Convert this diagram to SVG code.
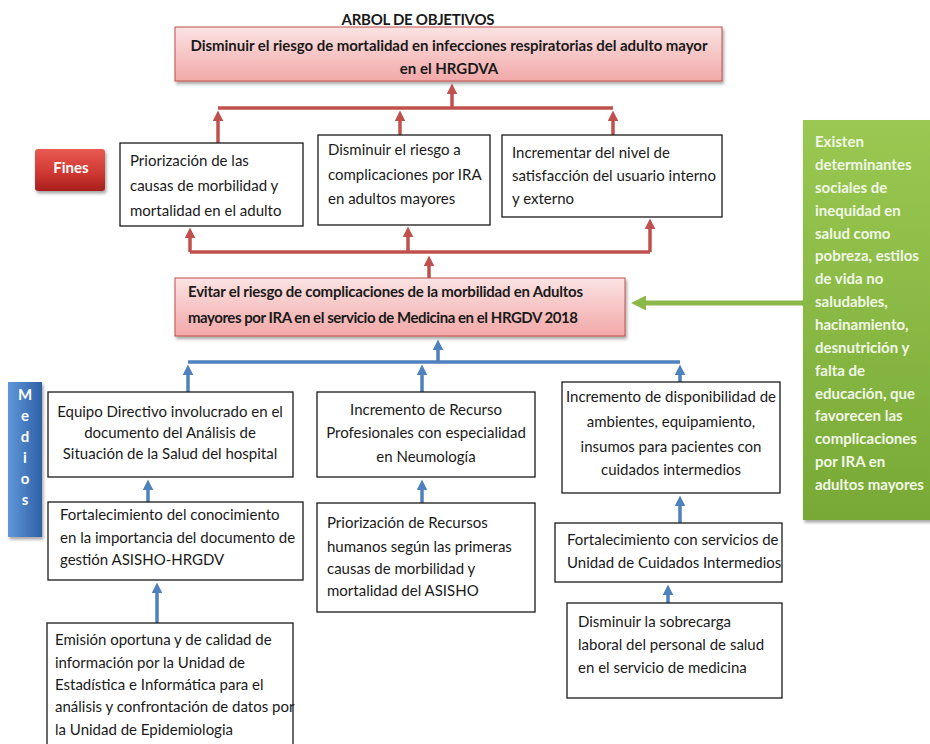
<svg xmlns="http://www.w3.org/2000/svg" width="930" height="744" viewBox="0 0 930 744">
  <defs>
    <linearGradient id="pinkFill" x1="0" y1="0" x2="0" y2="1">
      <stop offset="0" stop-color="#fbe3e3"/>
      <stop offset="1" stop-color="#f2a8a8"/>
    </linearGradient>
    <linearGradient id="redFill" x1="0" y1="0" x2="0" y2="1">
      <stop offset="0" stop-color="#ea5a52"/>
      <stop offset="0.55" stop-color="#d03a33"/>
      <stop offset="1" stop-color="#a91e1c"/>
    </linearGradient>
    <linearGradient id="blueFill" x1="0" y1="0" x2="1" y2="0">
      <stop offset="0" stop-color="#6097da"/>
      <stop offset="1" stop-color="#2e60a6"/>
    </linearGradient>
    <linearGradient id="greenFill" x1="0" y1="0" x2="0" y2="1">
      <stop offset="0" stop-color="#9ac852"/>
      <stop offset="1" stop-color="#78a936"/>
    </linearGradient>
    <filter id="shadow" x="-10%" y="-10%" width="130%" height="140%">
      <feDropShadow dx="1.5" dy="2.5" stdDeviation="1.8" flood-color="#000" flood-opacity="0.35"/>
    </filter>
    <marker id="headRed" viewBox="0 0 10 10" refX="4" refY="5" markerWidth="11" markerHeight="11" markerUnits="userSpaceOnUse" orient="auto">
      <path d="M0,0 L10,5 L0,10 Z" fill="#c0504d"/>
    </marker>
    <marker id="headBlue" viewBox="0 0 10 10" refX="4" refY="5" markerWidth="11" markerHeight="11" markerUnits="userSpaceOnUse" orient="auto">
      <path d="M0,0 L10,5 L0,10 Z" fill="#4f81bd"/>
    </marker>
    <marker id="headGreen" viewBox="0 0 10 10" refX="4" refY="5" markerWidth="15" markerHeight="15" markerUnits="userSpaceOnUse" orient="auto">
      <path d="M0,0 L10,5 L0,10 Z" fill="#8cb84a"/>
    </marker>
    <style>
      .box { fill: #fff; stroke: #1a1a1a; stroke-width: 1.3; }
      .pink { fill: url(#pinkFill); stroke: #c0504d; stroke-width: 1; filter: url(#shadow); }
      .t { font-family: Lato, "Liberation Sans", sans-serif; font-size: 15px; fill: #1a1a1a; }
      .b { font-weight: bold; }
      .c { text-anchor: middle; }
      .w { fill: #ffffff; font-weight: bold; }
      .gt { font-family: Lato, "Liberation Sans", sans-serif; font-size: 15px; font-weight: bold; fill: #f1f7e6; }
      .red { stroke: #c0504d; stroke-width: 3.5; fill: none; }
      .blue { stroke: #4f81bd; stroke-width: 3.5; fill: none; }
      .green { stroke: #8cb84a; stroke-width: 5; fill: none; }
    </style>
  </defs>

  <rect width="930" height="744" fill="#ffffff"/>

  <text class="t b c" x="418" y="25" textLength="153">ARBOL DE OBJETIVOS</text>

  <!-- Connectors -->
  <g id="connectors">
    <!-- upper red bracket: fines feed the general objective -->
    <path class="red" d="M218,108 H613"/>
    <path class="red" d="M452,108 V90" marker-end="url(#headRed)"/>
    <path class="red" d="M218,143 V117" marker-end="url(#headRed)"/>
    <path class="red" d="M400,135 V117" marker-end="url(#headRed)"/>
    <path class="red" d="M613,135 V117" marker-end="url(#headRed)"/>
    <!-- lower red bracket: central objective feeds the fines -->
    <path class="red" d="M190,252 H650"/>
    <path class="red" d="M190,252 V234" marker-end="url(#headRed)"/>
    <path class="red" d="M408,252 V233" marker-end="url(#headRed)"/>
    <path class="red" d="M650,252 V225" marker-end="url(#headRed)"/>
    <path class="red" d="M429,278 V262" marker-end="url(#headRed)"/>
    <!-- green arrow from the determinants -->
    <path class="green" d="M803,303 H640" marker-end="url(#headGreen)"/>
    <!-- blue bracket: medios feed the central objective -->
    <path class="blue" d="M188,362 H680"/>
    <path class="blue" d="M438,362 V346" marker-end="url(#headBlue)"/>
    <path class="blue" d="M188,392 V371" marker-end="url(#headBlue)"/>
    <path class="blue" d="M422,392 V371" marker-end="url(#headBlue)"/>
    <path class="blue" d="M680,382 V371" marker-end="url(#headBlue)"/>
    <!-- blue chains between medios -->
    <path class="blue" d="M148,502 V486" marker-end="url(#headBlue)"/>
    <path class="blue" d="M157,623 V589" marker-end="url(#headBlue)"/>
    <path class="blue" d="M422,503 V486" marker-end="url(#headBlue)"/>
    <path class="blue" d="M680,523 V502" marker-end="url(#headBlue)"/>
    <path class="blue" d="M668,603 V591" marker-end="url(#headBlue)"/>
  </g>

  <!-- General objective -->
  <g id="objetivo-general">
    <rect class="pink" x="175" y="27" width="547" height="54"/>
    <text class="t b c" x="449" y="51" textLength="517">Disminuir el riesgo de mortalidad en  infecciones respiratorias del adulto mayor</text>
    <text class="t b c" x="449" y="74">en el HRGDVA</text>
  </g>

  <!-- Fines label -->
  <g id="fines-label">
    <rect x="35" y="149" width="70" height="42" rx="3" fill="url(#redFill)" filter="url(#shadow)"/>
    <text class="t w c" x="71" y="173" font-size="16">Fines</text>
  </g>

  <g id="fin-1">
    <rect class="box" x="120" y="143" width="183" height="83"/>
    <text class="t" x="130" y="166">Priorización de las</text>
    <text class="t" x="130" y="191">causas de morbilidad y</text>
    <text class="t" x="130" y="216">mortalidad en el adulto</text>
  </g>

  <g id="fin-2">
    <rect class="box" x="318" y="135" width="172" height="90"/>
    <text class="t" x="328" y="155">Disminuir el riesgo a</text>
    <text class="t" x="328" y="180">complicaciones por IRA</text>
    <text class="t" x="328" y="204">en adultos mayores</text>
  </g>

  <g id="fin-3">
    <rect class="box" x="502" y="135" width="220" height="82"/>
    <text class="t" x="512" y="158">Incrementar del nivel de</text>
    <text class="t" x="512" y="181">satisfacción del usuario interno</text>
    <text class="t" x="512" y="204">y externo</text>
  </g>

  <!-- Central objective -->
  <g id="objetivo-central">
    <rect class="pink" x="175" y="278" width="450" height="58"/>
    <text class="t b" x="188" y="297" textLength="395">Evitar el riesgo de  complicaciones de la morbilidad en Adultos</text>
    <text class="t b" x="188" y="323" textLength="390">mayores por IRA en el servicio de Medicina en el HRGDV 2018</text>
  </g>

  <!-- Determinants -->
  <g id="determinantes">
    <rect x="803" y="120" width="140" height="400" fill="url(#greenFill)" filter="url(#shadow)"/>
    <text class="gt" x="815" y="147">Existen</text>
    <text class="gt" x="815" y="170">determinantes</text>
    <text class="gt" x="815" y="193">sociales de</text>
    <text class="gt" x="815" y="216">inequidad en</text>
    <text class="gt" x="815" y="239">salud como</text>
    <text class="gt" x="815" y="261">pobreza, estilos</text>
    <text class="gt" x="815" y="284">de vida no</text>
    <text class="gt" x="815" y="307">saludables,</text>
    <text class="gt" x="815" y="330">hacinamiento,</text>
    <text class="gt" x="815" y="353">desnutrición y</text>
    <text class="gt" x="815" y="376">falta de</text>
    <text class="gt" x="815" y="399">educación, que</text>
    <text class="gt" x="815" y="421">favorecen las</text>
    <text class="gt" x="815" y="444">complicaciones</text>
    <text class="gt" x="815" y="467">por IRA en</text>
    <text class="gt" x="815" y="490">adultos mayores</text>
  </g>

  <!-- Medios label -->
  <g id="medios-label">
    <rect x="8" y="382" width="34" height="155" fill="url(#blueFill)" filter="url(#shadow)"/>
    <text class="t w c" x="25" y="400" font-size="16">M</text>
    <text class="t w c" x="25" y="421" font-size="16">e</text>
    <text class="t w c" x="25" y="442" font-size="16">d</text>
    <text class="t w c" x="25" y="463" font-size="16">i</text>
    <text class="t w c" x="25" y="484" font-size="16">o</text>
    <text class="t w c" x="25" y="505" font-size="16">s</text>
  </g>

  <g id="medio-1">
    <rect class="box" x="48" y="392" width="245" height="85"/>
    <text class="t c" x="170" y="417">Equipo Directivo  involucrado en el</text>
    <text class="t c" x="170" y="438">documento del Análisis de</text>
    <text class="t c" x="170" y="459">Situación de la Salud del hospital</text>
  </g>

  <g id="medio-1-1">
    <rect class="box" x="48" y="502" width="255" height="78"/>
    <text class="t" x="60" y="520">Fortalecimiento del conocimiento</text>
    <text class="t" x="60" y="543">en la importancia del documento de</text>
    <text class="t" x="60" y="565">gestión ASISHO-HRGDV</text>
  </g>

  <g id="medio-1-2">
    <rect class="box" x="47" y="623" width="246" height="140"/>
    <text class="t" x="55" y="645">Emisión oportuna y de calidad de</text>
    <text class="t" x="55" y="668">información  por la Unidad de</text>
    <text class="t" x="55" y="690">Estadística e Informática para el</text>
    <text class="t" x="55" y="712">análisis  y confrontación de datos por</text>
    <text class="t" x="55" y="735">la Unidad de Epidemiologia</text>
  </g>

  <g id="medio-2">
    <rect class="box" x="317" y="392" width="218" height="85"/>
    <text class="t c" x="426" y="415">Incremento de Recurso</text>
    <text class="t c" x="426" y="438">Profesionales con especialidad</text>
    <text class="t c" x="426" y="462">en Neumología</text>
  </g>

  <g id="medio-2-1">
    <rect class="box" x="317" y="503" width="218" height="109"/>
    <text class="t" x="327" y="528">Priorización de Recursos</text>
    <text class="t" x="327" y="552">humanos según las primeras</text>
    <text class="t" x="327" y="574">causas de morbilidad y</text>
    <text class="t" x="327" y="596">mortalidad del ASISHO</text>
  </g>

  <g id="medio-3">
    <rect class="box" x="562" y="382" width="218" height="111"/>
    <text class="t c" x="671" y="402">Incremento de disponibilidad de</text>
    <text class="t c" x="671" y="427">ambientes, equipamiento,</text>
    <text class="t c" x="671" y="452">insumos para pacientes con</text>
    <text class="t c" x="671" y="475">cuidados intermedios</text>
  </g>

  <g id="medio-3-1">
    <rect class="box" x="555" y="523" width="227" height="59"/>
    <text class="t" x="567" y="545">Fortalecimiento con  servicios  de</text>
    <text class="t" x="567" y="568">Unidad de Cuidados Intermedios</text>
  </g>

  <g id="medio-3-2">
    <rect class="box" x="567" y="603" width="215" height="95"/>
    <text class="t" x="578" y="627">Disminuir la sobrecarga</text>
    <text class="t" x="578" y="650">laboral del personal de salud</text>
    <text class="t" x="578" y="673">en el servicio de medicina</text>
  </g>
</svg>
